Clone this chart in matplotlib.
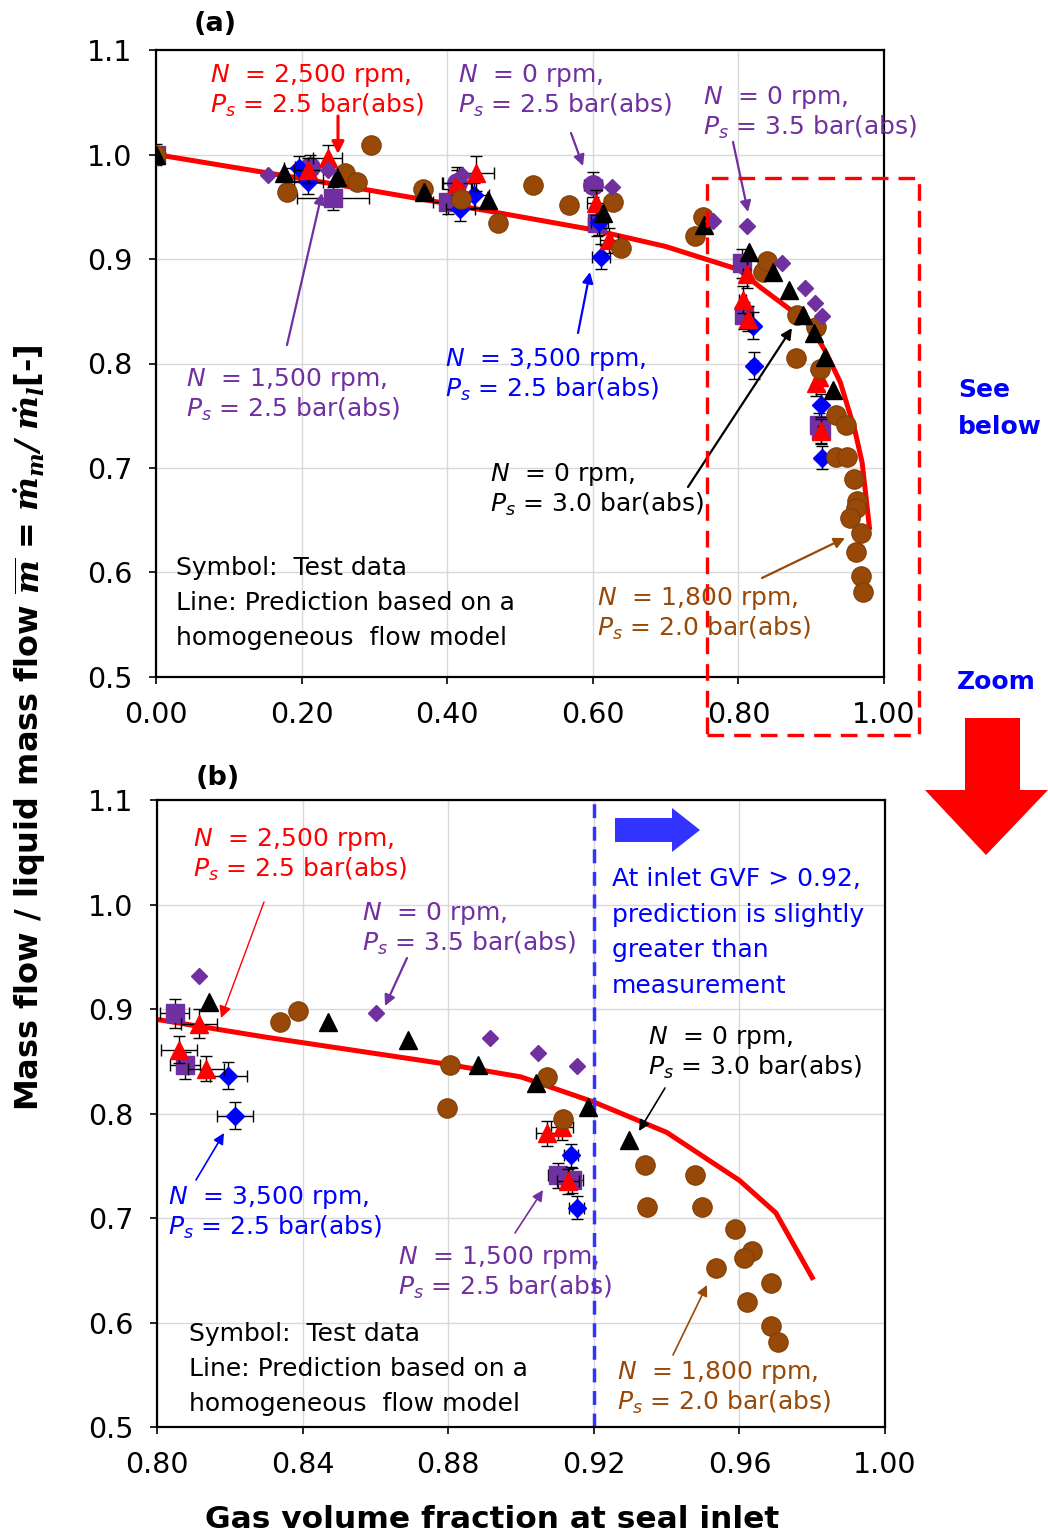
import matplotlib
matplotlib.use('Agg')
import matplotlib.pyplot as plt
import numpy as np
from matplotlib.patches import Rectangle, Polygon, FancyArrowPatch

plt.rcParams['font.family'] = ['DejaVu Sans']
plt.rcParams['mathtext.fontset'] = 'custom'
plt.rcParams['mathtext.rm'] = 'DejaVu Sans'
plt.rcParams['mathtext.it'] = 'DejaVu Sans:italic'
plt.rcParams['mathtext.bf'] = 'DejaVu Serif:bold:italic'

# ---------------- data ----------------
pred_x = [0.0, 0.2, 0.4, 0.6, 0.7, 0.8, 0.83, 0.88, 0.90, 0.92, 0.94, 0.96, 0.97, 0.98]
pred_y = [1.0, 0.977, 0.953, 0.928, 0.912, 0.890, 0.873, 0.847, 0.835, 0.811, 0.782, 0.736, 0.705, 0.643]

# N = 2,500 rpm, Ps = 2.5 bar (red triangles)
red_x = [0.209, 0.236, 0.414, 0.440, 0.604, 0.622, 0.8061, 0.8116, 0.8134, 0.9072, 0.9112, 0.9130]
red_y = [0.985, 0.997, 0.973, 0.982, 0.954, 0.918, 0.861, 0.886, 0.843, 0.781, 0.787, 0.735]
red_xerr = [0.02, 0.02, 0.02, 0.024, 0.012, 0.012, 0.005, 0.005, 0.005, 0.003, 0.003, 0.003]
red_yerr = [0.012, 0.012, 0.015, 0.017, 0.012, 0.012, 0.013, 0.014, 0.012, 0.012, 0.012, 0.012]

# N = 0 rpm, Ps = 2.5 bar (purple circles)
pc_x = [0.211, 0.413, 0.600]
pc_y = [0.988, 0.973, 0.971]
pc_xerr = [0.02, 0.02, 0.012]
pc_yerr = [0.012, 0.012, 0.012]

# N = 0 rpm, Ps = 3.5 bar (purple diamonds)
pd_x = [0.154, 0.236, 0.421, 0.626, 0.765, 0.8115, 0.8601, 0.8915, 0.9048, 0.9153]
pd_y = [0.980, 0.985, 0.980, 0.969, 0.936, 0.932, 0.896, 0.872, 0.858, 0.845]

# N = 1,500 rpm, Ps = 2.5 bar (purple squares)
ps_x = [0.0, 0.243, 0.401, 0.606, 0.8049, 0.8077, 0.9103, 0.9139]
ps_y = [1.0, 0.958, 0.955, 0.934, 0.896, 0.846, 0.741, 0.736]
ps_xerr = [0.0, 0.05, 0.02, 0.012, 0.004, 0.004, 0.003, 0.003]
ps_yerr = [0.01, 0.011, 0.012, 0.012, 0.014, 0.013, 0.012, 0.012]

# N = 3,500 rpm, Ps = 2.5 bar (blue diamonds)
bd_x = [0.196, 0.209, 0.418, 0.437, 0.609, 0.611, 0.8196, 0.8214, 0.9137, 0.9153]
bd_y = [0.987, 0.974, 0.948, 0.961, 0.935, 0.902, 0.836, 0.798, 0.760, 0.710]
bd_xerr = [0.02, 0.02, 0.02, 0.02, 0.012, 0.012, 0.005, 0.005, 0.002, 0.002]
bd_yerr = [0.012, 0.012, 0.012, 0.012, 0.012, 0.012, 0.013, 0.013, 0.011, 0.011]

# N = 0 rpm, Ps = 3.0 bar (black triangles)
bt_x = [0.0, 0.176, 0.248, 0.368, 0.456, 0.614, 0.753, 0.8143, 0.8471, 0.8689, 0.8883, 0.9041, 0.9185, 0.9298]
bt_y = [1.0, 0.982, 0.978, 0.964, 0.956, 0.944, 0.933, 0.907, 0.888, 0.870, 0.846, 0.829, 0.806, 0.775]

# N = 1,800 rpm, Ps = 2.0 bar (brown circles)
br_x = [0.0, 0.180, 0.260, 0.276, 0.295, 0.367, 0.419, 0.470, 0.518, 0.567, 0.628, 0.639, 0.740, 0.751,
        0.8338, 0.8388, 0.8796, 0.8805, 0.9072, 0.9116, 0.9341, 0.9478, 0.9345, 0.9496, 0.9588,
        0.9634, 0.9613, 0.9536, 0.9686, 0.9620, 0.9686, 0.9707]
br_y = [1.0, 0.964, 0.982, 0.974, 1.009, 0.967, 0.957, 0.934, 0.971, 0.952, 0.955, 0.911, 0.922, 0.940,
        0.888, 0.898, 0.805, 0.846, 0.835, 0.795, 0.751, 0.741, 0.711, 0.711, 0.689,
        0.668, 0.662, 0.652, 0.638, 0.620, 0.597, 0.581]

RED = '#FF0000'
PURPLE = '#7030A0'
BLUE = '#0000FF'
BROWN = '#984807'
LBLUE = '#3333FF'

W, H = 1048, 1536
fig = plt.figure(figsize=(W / 100, H / 100), dpi=100)
axA = fig.add_axes([156 / W, 1 - 677 / H, 728 / W, 627 / H])
axB = fig.add_axes([157 / W, 1 - 1427 / H, 728 / W, 627 / H])

eb = dict(ecolor='black', elinewidth=1.0, capsize=4.5, capthick=1.0, linestyle='none')
TICKFS = 20.5


def draw(ax):
    ax.plot(pred_x, pred_y, color=RED, lw=3.6, zorder=2, solid_joinstyle='round')
    ax.errorbar(ps_x, ps_y, xerr=ps_xerr, yerr=ps_yerr, fmt='s', color=PURPLE, ms=13, mec=PURPLE, zorder=3, **eb)
    ax.errorbar(bd_x, bd_y, xerr=bd_xerr, yerr=bd_yerr, fmt='D', color=BLUE, ms=9, mec=BLUE, zorder=3.2, **eb)
    ax.errorbar(pc_x, pc_y, xerr=pc_xerr, yerr=pc_yerr, fmt='o', color=PURPLE, ms=14, mec=PURPLE, zorder=3.1, **eb)
    ax.errorbar(red_x, red_y, xerr=red_xerr, yerr=red_yerr, fmt='^', color=RED, ms=13, mec=RED, zorder=3.4, **eb)
    ax.plot(br_x, br_y, 'o', color=BROWN, ms=14, mec='#7F3F05', mew=0.8, zorder=3.5, linestyle='none')
    ax.plot(bt_x, bt_y, '^', color='black', ms=13, zorder=3.6, linestyle='none')
    ax.plot(pd_x, pd_y, 'D', color=PURPLE, ms=8, zorder=3.7, linestyle='none')
    ax.grid(True, color='#D9D9D9', lw=1.0)
    ax.set_axisbelow(True)
    ax.set_ylim(0.5, 1.1)
    ax.set_yticks(np.arange(0.5, 1.101, 0.1))
    ax.set_yticklabels(['%.1f' % v for v in np.arange(0.5, 1.101, 0.1)])
    for s in ax.spines.values():
        s.set_color('black')
        s.set_linewidth(1.6)
    ax.tick_params(axis='y', direction='out', length=5, width=1.2, pad=12, labelsize=TICKFS)
    ax.tick_params(axis='x', direction='out', length=5, width=1.2, pad=12, labelsize=TICKFS)


draw(axA)
axA.set_xlim(0, 1.0)
axA.set_xticks(np.arange(0, 1.001, 0.2))
axA.set_xticklabels(['%.2f' % v for v in np.arange(0, 1.001, 0.2)])

draw(axB)
axB.set_xlim(0.8, 1.0)
axB.set_xticks(np.arange(0.8, 1.0001, 0.04))
axB.set_xticklabels(['%.2f' % v for v in np.arange(0.8, 1.0001, 0.04)])
axB.axvline(0.92, color=LBLUE, lw=2.5, ls=(0, (4, 2.5)), zorder=2.5)

# ---------------- text helpers ----------------
FS = 18


def T(px, py, s, color='black', fs=FS, **kw):
    fig.text(px / W, 1 - py / H, s, color=color, fontsize=fs, va='baseline', ha='left', **kw)


def NP(px, py, nline, pline, color):
    T(px, py + 9, nline, color)
    T(px, py + 40, pline, color)


def A(p0, p1, color, lw=1.6, ms=16):
    fig.add_artist(FancyArrowPatch((p0[0] / W, 1 - p0[1] / H), (p1[0] / W, 1 - p1[1] / H),
                                   transform=fig.transFigure, arrowstyle='-|>', mutation_scale=ms,
                                   color=color, lw=lw, shrinkA=0, shrinkB=0))


# panel labels
T(194, 31, '(a)', fs=19.5, fontweight='bold')
T(196, 785, '(b)', fs=19.5, fontweight='bold')

# ---- panel (a) annotations ----
NP(210, 73, r'$N$  = 2,500 rpm,', r'$P_s$ = 2.5 bar(abs)', RED)
A((338, 116), (338, 154), RED, lw=2.2, ms=18)
NP(458, 73, r'$N$  = 0 rpm,', r'$P_s$ = 2.5 bar(abs)', PURPLE)
A((571, 133), (583, 166), PURPLE)
NP(703, 95, r'$N$  = 0 rpm,', r'$P_s$ = 3.5 bar(abs)', PURPLE)
A((733, 142), (748, 212), PURPLE)
NP(186, 377, r'$N$  = 1,500 rpm,', r'$P_s$ = 2.5 bar(abs)', PURPLE)
A((287, 345), (322, 193), PURPLE)
NP(445, 357, r'$N$  = 3,500 rpm,', r'$P_s$ = 2.5 bar(abs)', BLUE)
A((578, 333), (590, 272), BLUE)
NP(490, 472, r'$N$  = 0 rpm,', r'$P_s$ = 3.0 bar(abs)', 'black')
A((688, 487), (792, 328), 'black')
NP(597, 596, r'$N$  = 1,800 rpm,', r'$P_s$ = 2.0 bar(abs)', BROWN)
A((762, 578), (845, 538), BROWN)
T(176, 575, 'Symbol:  Test data')
T(176, 610, 'Line: Prediction based on a')
T(176, 645, 'homogeneous  flow model')

# dashed zoom rectangle
fig.add_artist(Rectangle((707 / W, 1 - 735 / H), (919 - 707) / W, (735 - 178) / H, transform=fig.transFigure,
                         fill=False, edgecolor=RED, lw=2.4, ls=(0, (5, 3))))
T(958, 397, 'See', color=BLUE, fs=18, fontweight='bold')
T(958, 434, 'below', color=BLUE, fs=18, fontweight='bold')
T(957, 689, 'Zoom', color=BLUE, fs=18, fontweight='bold')

# big red arrow
big = [(965, 718), (1020, 718), (1020, 790), (1048, 790), (986, 855), (925, 790), (965, 790)]
fig.add_artist(Polygon([(x / W, 1 - y / H) for x, y in big], closed=True, transform=fig.transFigure,
                       facecolor=RED, edgecolor='none'))

# ---- panel (b) annotations ----
NP(193, 837, r'$N$  = 2,500 rpm,', r'$P_s$ = 2.5 bar(abs)', RED)
A((264, 902), (221, 1018), RED, lw=1.0, ms=18)
NP(362, 911, r'$N$  = 0 rpm,', r'$P_s$ = 3.5 bar(abs)', PURPLE)
A((407, 958), (385, 1006), PURPLE)
NP(648, 1035, r'$N$  = 0 rpm,', r'$P_s$ = 3.0 bar(abs)', 'black')
A((665, 1088), (639, 1131), 'black', lw=1.2)
NP(168, 1195, r'$N$  = 3,500 rpm,', r'$P_s$ = 2.5 bar(abs)', BLUE)
A((196, 1180), (224, 1133), BLUE, lw=1.2)
NP(398, 1255, r'$N$  = 1,500 rpm,', r'$P_s$ = 2.5 bar(abs)', PURPLE)
A((515, 1233), (543, 1190), PURPLE, lw=1.2)
NP(617, 1370, r'$N$  = 1,800 rpm,', r'$P_s$ = 2.0 bar(abs)', BROWN)
A((673, 1355), (707, 1285), BROWN, lw=1.2)
T(189, 1341, 'Symbol:  Test data')
T(189, 1376, 'Line: Prediction based on a')
T(189, 1411, 'homogeneous  flow model')

for i, s in enumerate(['At inlet GVF > 0.92,', 'prediction is slightly', 'greater than', 'measurement']):
    T(612, 886 + i * 35.7, s, color=BLUE)

blue_arrow = [(615, 818), (672, 818), (672, 808), (700, 830), (672, 852), (672, 842), (615, 842)]
fig.add_artist(Polygon([(x / W, 1 - y / H) for x, y in blue_arrow], closed=True, transform=fig.transFigure,
                       facecolor=LBLUE, edgecolor='none'))

# axis labels
fig.text(30 / W, 1 - 728 / H,
         r'Mass flow / liquid mass flow $\mathbf{\overline{m}}$ = $\mathbf{\dot{m}_m/\ \dot{m}_l}$[-]',
         rotation=90, ha='center', va='center', fontsize=23, fontweight='bold')
fig.text(492 / W, 1 - 1519 / H, 'Gas volume fraction at seal inlet', ha='center', va='center',
         fontsize=22.5, fontweight='bold')

fig.savefig('out.png', dpi=100)
